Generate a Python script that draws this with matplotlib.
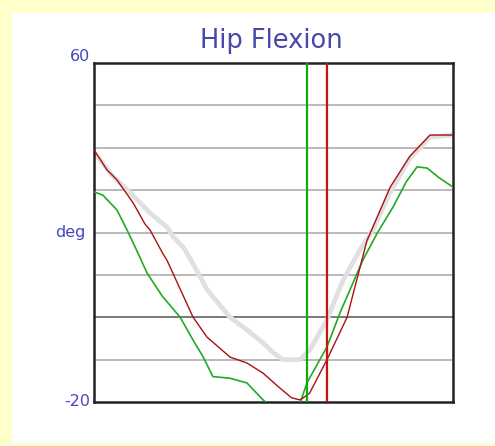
import matplotlib
matplotlib.use("Agg")
import matplotlib.pyplot as plt
from matplotlib.patches import Rectangle

# gait cycle (%) and hip flexion angle (deg)
norm_x = [0, 5, 10, 15.6, 20.3, 22, 24.8, 26.7, 31.5, 37.9, 42.6, 47, 50, 52.6, 57.4,
          60.2, 64.9, 69.4, 74, 77.7, 82.5, 88, 93.6, 100]
norm_y = [39, 33.5, 29.5, 24.6, 21.3, 19, 16.6, 14, 6.5, 0, -3, -6, -8.4, -10, -10,
          -7.6, -0.6, 8.8, 15.8, 20.6, 29.5, 37.5, 42.5, 43]

right_x = [0, 3.6, 6.4, 10.9, 14.2, 15.6, 19.2, 20.3, 27.6, 31.5, 37.9, 42.6, 47.1, 51.5,
           55, 57.4, 60, 64.9, 70.5, 76, 82.5, 88, 93.6, 100]
right_y = [39.5, 34.8, 32.4, 27, 22, 20.6, 15, 13.5, 0, -4.7, -9.4, -10.8, -13.2, -16.5,
           -19, -19.5, -18, -10, 0, 18, 30.7, 38, 43, 43]

left_x = [0, 2.5, 6.4, 9.2, 11.5, 14.8, 19, 24, 27.6, 30.5, 33.1, 37.9, 42.6, 47.1,
          50, 53, 57.4, 59.3, 64.9, 68.5, 74.9, 79, 83.3, 87, 90, 92.8, 96, 100]
left_y = [29.6, 28.8, 25.3, 20.6, 16.5, 10.4, 5, 0, -5.4, -9.5, -14, -14.4, -15.5, -19.5,
          -21.5, -22, -20.3, -15.5, -7, 1, 13.5, 20, 26, 32, 35.5, 35.2, 33, 30.7]

toe_off_left = 59.3
toe_off_right = 64.9
grid_levels = [-10, 0, 10, 20, 30, 40, 50]

fig = plt.figure(figsize=(4.95, 4.46), dpi=100, facecolor="#ffffcc")
fig.patches.append(Rectangle((12 / 495, 3 / 446), 1.0, 1 - 16 / 446,
                             transform=fig.transFigure, facecolor="white",
                             edgecolor="none", zorder=-10))

ax = fig.add_axes([94 / 495, 44 / 446, 359 / 495, 339 / 446])
ax.set_xlim(0, 100)
ax.set_ylim(-20, 60)

for g in grid_levels:
    if g == 0:
        ax.axhline(g, color="#6e6e6e", lw=1.3, zorder=1)
    else:
        ax.axhline(g, color="#b4b4b4", lw=1.3, zorder=1)

ax.plot(norm_x, norm_y, color="#e0e0e0", lw=3.4, solid_capstyle="round", zorder=2)
ax.plot(left_x, left_y, color="#22aa22", lw=1.2, zorder=3)
ax.plot(right_x, right_y, color="#aa1111", lw=1.0, zorder=4)

ax.axvline(toe_off_left, color="#11aa11", lw=1.6, zorder=5)
ax.axvline(toe_off_right, color="#cc1111", lw=1.6, zorder=5)

for s in ax.spines.values():
    s.set_linewidth(1.8)
    s.set_color("#222222")
ax.set_xticks([])
ax.set_yticks([])

label_color = "#4646c0"
ax.text(-1.1, 61.5, "60", ha="right", va="center", fontsize=11.5, color=label_color)
ax.text(-2.5, 20, "deg", ha="right", va="center", fontsize=11.5, color=label_color)
ax.text(-1.1, -20, "-20", ha="right", va="center", fontsize=11.5, color=label_color)

fig.text(271 / 495, 1 - 41 / 446, "Hip Flexion", ha="center", va="center",
         fontsize=18.5, color="#4848a8")

plt.savefig("out.png", dpi=100, facecolor=fig.get_facecolor())
